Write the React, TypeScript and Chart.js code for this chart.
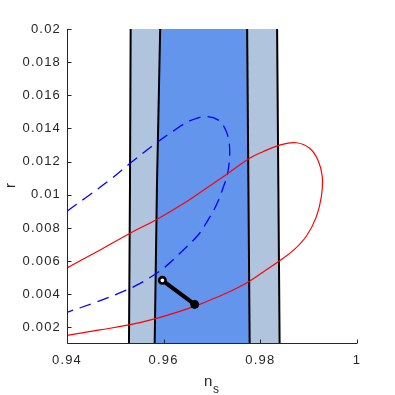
import React, { useEffect, useRef } from "react";
import { Chart, registerables } from "chart.js";

Chart.register(...registerables);

// Axis ranges and ticks
const xRange = [0.94, 1];
const yRange = [0.001, 0.02];
const xTicks = [0.94, 0.96, 0.98, 1];
const xTickLabels = ["0.94", "0.96", "0.98", "1"];
const yTicks = [0.002, 0.004, 0.006, 0.008, 0.01, 0.012, 0.014, 0.016, 0.018, 0.02];
const yTickLabels = ["0.002", "0.004", "0.006", "0.008", "0.01", "0.012", "0.014", "0.016", "0.018", "0.02"];
const xTitle = "n";
const xTitleSub = "s";
const yTitle = "r";

// Vertical band edges: n_s at r = top, middle, bottom
const bandR = [0.02, 0.0105, 0.001];
const outerLeftNs = [0.95317, 0.95303, 0.95282];
const innerLeftNs = [0.95928, 0.95861, 0.95814];
const innerRightNs = [0.97727, 0.97753, 0.97779];
const outerRightNs = [0.98347, 0.98373, 0.98399];

// Red solid contour
const redNs = [0.94, 0.94676, 0.95297, 0.95855, 0.9647, 0.9689, 0.9733, 0.97779, 0.98054, 0.98399, 0.98745, 0.9902, 0.99191, 0.99282, 0.99262, 0.99158, 0.98958, 0.98699, 0.98399, 0.98068, 0.97758, 0.97427, 0.97075, 0.96745, 0.96331, 0.95814, 0.95282, 0.94676, 0.94];
const redR = [0.00559, 0.00666, 0.00767, 0.00851, 0.00958, 0.01041, 0.01129, 0.0122, 0.0126, 0.013, 0.01314, 0.01281, 0.0121, 0.01109, 0.00988, 0.00867, 0.00753, 0.00669, 0.00602, 0.00536, 0.00475, 0.00424, 0.00379, 0.00339, 0.00297, 0.00252, 0.00215, 0.00185, 0.00152];

// Blue dashed contour
const blueNs = [0.94, 0.94366, 0.94883, 0.95332, 0.95814, 0.96331, 0.96538, 0.96848, 0.97123, 0.97297, 0.97365, 0.9733, 0.97226, 0.9709, 0.96916, 0.96709, 0.96331, 0.95986, 0.95504, 0.9509, 0.94608, 0.94];
const blueR = [0.00901, 0.00978, 0.01089, 0.01196, 0.01305, 0.01411, 0.01446, 0.01472, 0.01452, 0.01381, 0.01281, 0.01139, 0.01039, 0.00938, 0.00847, 0.00756, 0.00646, 0.00555, 0.00464, 0.00408, 0.00353, 0.00291];

// Black thick segment
const pathNs = [0.95973, 0.96641];
const pathR = [0.00484, 0.00339];

const TEXT = "#262626";
const FONT = "'Liberation Sans', Arial, Helvetica, sans-serif";

const pts = (xs: number[], ys: number[]) => xs.map((x, i) => ({ x, y: ys[i] }));
const band = (left: number[], right: number[]) => [
  ...pts(left, bandR),
  ...pts(right, bandR).reverse(),
];

const axesPlugin = {
  id: "axesAndTitles",
  beforeDraw(chart: any) {
    chart.ctx.letterSpacing = "1.2px";
  },
  afterDraw(chart: any) {
    const { ctx, chartArea: a, scales } = chart;
    const xs = scales.x;
    const ys = scales.y;
    ctx.save();
    ctx.letterSpacing = "0px";
    ctx.strokeStyle = TEXT;
    ctx.lineWidth = 1;
    const lx = Math.round(a.left) + 0.5;
    const by = Math.round(a.bottom) - 0.5;
    ctx.beginPath();
    ctx.moveTo(lx, a.top);
    ctx.lineTo(lx, by);
    ctx.lineTo(a.right, by);
    yTicks.forEach((v) => {
      const py = Math.round(ys.getPixelForValue(v)) + 0.5;
      ctx.moveTo(lx, py);
      ctx.lineTo(lx + 4, py);
    });
    xTicks.forEach((v) => {
      const px = Math.round(xs.getPixelForValue(v)) + 0.5;
      ctx.moveTo(px, by);
      ctx.lineTo(px, by - 4);
    });
    ctx.stroke();

    ctx.fillStyle = TEXT;
    ctx.textBaseline = "alphabetic";
    // x title with subscript
    const cx = (a.left + a.right) / 2;
    ctx.font = `15px ${FONT}`;
    ctx.textAlign = "left";
    ctx.fillText(xTitle, cx - 8, 386);
    ctx.font = `12px ${FONT}`;
    ctx.fillText(xTitleSub, cx + 1, 393);
    // y title rotated
    const cy = (a.top + a.bottom) / 2;
    ctx.translate(15, cy - 1);
    ctx.rotate(-Math.PI / 2);
    ctx.font = `15px ${FONT}`;
    ctx.textAlign = "center";
    ctx.fillText(yTitle, 0, 0);
    ctx.restore();
  },
};

export default function App() {
  const ref = useRef<HTMLCanvasElement | null>(null);

  useEffect(() => {
    if (!ref.current) return;
    const lineDs = (data: any[], order: number) => ({
      data,
      showLine: true,
      borderColor: "#000000",
      borderWidth: 2,
      pointRadius: 0,
      fill: false,
      order,
    });
    const chart = new Chart(ref.current, {
      type: "scatter",
      data: {
        datasets: [
          {
            data: pts(pathNs, pathR),
            showLine: true,
            borderColor: "#000000",
            borderWidth: 4,
            pointRadius: [3.2, 4],
            pointBorderWidth: [2.6, 1],
            pointBorderColor: "#000000",
            pointBackgroundColor: ["#ffffff", "#000000"],
            order: 0,
          } as any,
          {
            data: pts(redNs, redR),
            showLine: true,
            borderColor: "#ff0000",
            borderWidth: 1.2,
            pointRadius: 0,
            tension: 0.4,
            fill: false,
            order: 1,
          },
          {
            data: pts(blueNs, blueR),
            showLine: true,
            borderColor: "#0000ff",
            borderWidth: 1.3,
            borderDash: [12, 7],
            pointRadius: 0,
            tension: 0.35,
            fill: false,
            order: 2,
          },
          lineDs(pts(outerLeftNs, bandR), 3),
          lineDs(pts(innerLeftNs, bandR), 3),
          lineDs(pts(innerRightNs, bandR), 3),
          lineDs(pts(outerRightNs, bandR), 3),
          {
            data: band(innerLeftNs, innerRightNs),
            showLine: true,
            borderWidth: 0,
            borderColor: "rgba(0,0,0,0)",
            backgroundColor: "#6495ed",
            pointRadius: 0,
            fill: "shape",
            order: 4,
          } as any,
          {
            data: band(outerLeftNs, outerRightNs),
            showLine: true,
            borderWidth: 0,
            borderColor: "rgba(0,0,0,0)",
            backgroundColor: "#b0c4de",
            pointRadius: 0,
            fill: "shape",
            order: 5,
          } as any,
        ],
      },
      options: {
        responsive: false,
        animation: false,
        events: [],
        layout: { padding: { top: 29, right: 38, bottom: 0, left: 0 } },
        plugins: {
          legend: { display: false },
          tooltip: { enabled: false },
        },
        scales: {
          x: {
            type: "linear",
            min: xRange[0],
            max: xRange[1],
            grid: { display: false, drawTicks: false },
            border: { display: false },
            afterBuildTicks: (s: any) => {
              s.ticks = xTicks.map((v) => ({ value: v }));
            },
            afterFit: (s: any) => {
              s.height = 51;
            },
            ticks: {
              autoSkip: false,
              maxRotation: 0,
              minRotation: 0,
              padding: 9,
              color: TEXT,
              font: { family: FONT, size: 13 },
              callback: (_v: any, i: number) => xTickLabels[i],
            },
          },
          y: {
            type: "linear",
            min: yRange[0],
            max: yRange[1],
            grid: { display: false, drawTicks: false },
            border: { display: false },
            afterBuildTicks: (s: any) => {
              s.ticks = yTicks.map((v) => ({ value: v }));
            },
            afterFit: (s: any) => {
              s.width = 67;
            },
            ticks: {
              autoSkip: false,
              padding: 6,
              color: TEXT,
              font: { family: FONT, size: 13 },
              callback: (_v: any, i: number) => yTickLabels[i],
            },
          },
        },
      },
      plugins: [axesPlugin],
    } as any);
    return () => chart.destroy();
  }, []);

  return (
    <div style={{ position: "fixed", left: 0, top: 0, width: 395, height: 395, background: "#ffffff" }}>
      <canvas ref={ref} width={395} height={395} style={{ display: "block" }} />
    </div>
  );
}
